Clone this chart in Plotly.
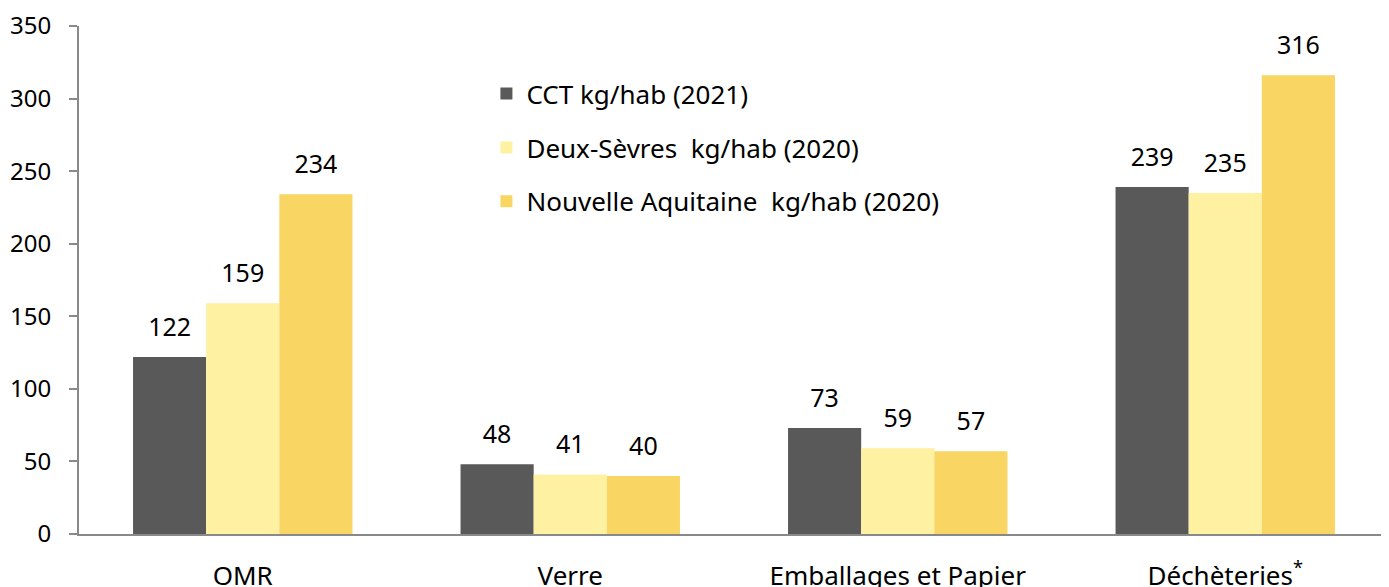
import plotly.graph_objects as go

# Data
categories = ["OMR", "Verre", "Emballages et Papier", "Déchèteries<sup>*</sup>"]
series_names = [
    "CCT kg/hab (2021)",
    "Deux-Sèvres\u00a0 kg/hab (2020)",
    "Nouvelle Aquitaine\u00a0 kg/hab (2020)",
]
cct_2021 = [122, 48, 73, 239]
deux_sevres_2020 = [159, 41, 59, 235]
nouvelle_aquitaine_2020 = [234, 40, 57, 316]
y_ticks = [0, 50, 100, 150, 200, 250, 300, 350]

colors = ["#595959", "#FEF1A1", "#F9D563"]
font_family = "Noto Sans"
all_series = [cct_2021, deux_sevres_2020, nouvelle_aquitaine_2020]

fig = go.Figure()

for i, (name, vals) in enumerate(zip(series_names, all_series)):
    fig.add_trace(
        go.Bar(
            x=categories,
            y=vals,
            name=name,
            legendgroup=str(i),
            offsetgroup=str(i),
            marker=dict(color=colors[i], line=dict(width=0)),
        )
    )

# value labels, aligned on the bars through scattermode="group"
for i, vals in enumerate(all_series):
    fig.add_trace(
        go.Scatter(
            x=categories,
            y=vals,
            mode="markers+text",
            text=[str(v) for v in vals],
            textposition="top center",
            textfont=dict(size=25, color="#000"),
            marker=dict(size=22, opacity=0),
            offsetgroup=str(i),
            showlegend=False,
            hoverinfo="skip",
            cliponaxis=False,
        )
    )

fig.update_layout(
    barmode="group",
    scattermode="group",
    bargap=0.33,
    scattergap=0.33,
    bargroupgap=0,
    width=1389,
    height=587,
    # page body adds 8px around the figure
    margin=dict(l=71, r=8, t=18, b=61),
    plot_bgcolor="#fff",
    paper_bgcolor="#fff",
    font=dict(family=font_family, size=25, color="#000"),
    showlegend=True,
    legend=dict(
        x=0.311,
        y=0.913,
        xanchor="left",
        yanchor="top",
        bgcolor="rgba(0,0,0,0)",
        tracegroupgap=17,
        font=dict(size=26),
    ),
    xaxis=dict(
        automargin=False,
        showline=True,
        linecolor="#898989",
        linewidth=2,
        ticks="",
        showgrid=False,
        ticklabelstandoff=18,
        ticklabeloverflow="allow",
        tickfont=dict(size=26),
    ),
    yaxis=dict(
        automargin=False,
        range=[0, 350],
        tickvals=y_ticks,
        showline=True,
        linecolor="#898989",
        linewidth=2,
        ticks="outside",
        ticklen=8,
        tickwidth=2,
        tickcolor="#898989",
        showgrid=False,
        zeroline=False,
        tickfont=dict(size=24),
        ticklabelstandoff=13,
        ticklabeloverflow="allow",
    ),
)

fig.write_html("out.html")
